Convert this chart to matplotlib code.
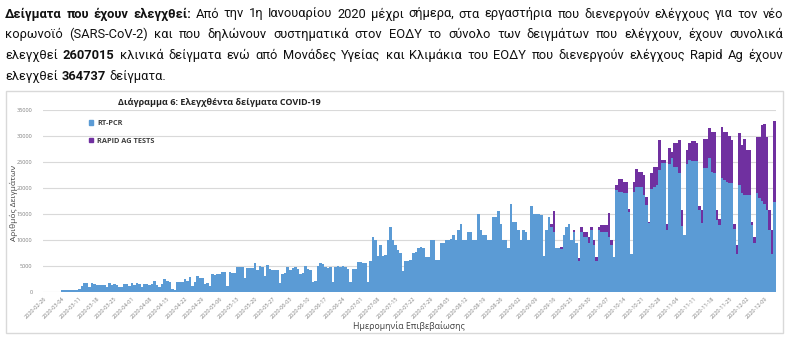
import datetime as dt

import matplotlib
matplotlib.use('Agg')
import matplotlib.pyplot as plt
from matplotlib.patches import Patch, Rectangle

W, H = 792, 340

start_date = dt.date(2020, 2, 26)

# daily RT-PCR samples (from 2020-02-26)
rt_pcr = [
    10, 15, 20, 25, 40, 60, 50,
    350, 300, 400, 380, 320, 350, 420,
    500, 1200, 1700, 1700, 1000, 1700, 1500,
    1400, 1400, 1350, 1300, 1000, 1700, 1300,
    1500, 1400, 900, 1000, 1600, 1500, 1200,
    1700, 1400, 1800, 1500, 1000, 1600, 1500,
    1400, 1500, 2100, 1300, 1000, 1600, 2500,
    2200, 2000, 600, 400, 1900, 2000, 1900,
    2500, 2200, 2900, 1200, 2000, 3000, 2700,
    2600, 1600, 1800, 1100, 3500, 3300, 3400,
    3400, 3900, 3900, 1200, 3800, 3700, 3600,
    4800, 4900, 4800, 2700, 4700, 4600, 4600,
    5600, 4200, 5000, 4900, 3000, 5100, 4500,
    4300, 4300, 4200, 1800, 3500, 3600, 4800,
    4300, 4600, 4800, 4500, 3500, 3600, 5000,
    4500, 4200, 2000, 2200, 5000, 5500, 5300,
    4800, 4700, 4800, 2000, 4800, 5000, 4900,
    5000, 4800, 4500, 2000, 4500, 4500, 5800,
    5800, 5500, 5500, 2000, 6000, 10500, 10000,
    7000, 9000, 7000, 7200, 10000, 12500, 10000,
    9000, 8000, 7500, 4000, 6000, 6000, 6200,
    7500, 7600, 8500, 8600, 8500, 6800, 6800,
    10000, 10000, 6200, 6200, 9500, 9500, 10000,
    10000, 10200, 11000, 10000, 12000, 13000, 10000,
    10000, 11500, 11500, 10000, 10000, 15000, 12000,
    11000, 11000, 10000, 10000, 14500, 14500, 15500,
    13000, 10000, 10000, 8500, 17000, 13500, 13500,
    12000, 10000, 12000, 11500, 10000, 16500, 15000,
    15000, 15000, 14800, 7000, 12000, 14500, 12500,
    11500, 8500, 8500, 8300, 11000, 12500, 13000,
    10000, 11500, 9500, 6000, 11500, 10500, 10500,
    9500, 12000, 9000, 6000, 12000, 11600, 11600,
    11600, 10600, 9000, 6800, 19600, 19300, 19300,
    19000, 19000, 15400, 7400, 19300, 20100, 20200,
    20200, 18700, 16700, 13200, 19900, 20200, 20500,
    23500, 24900, 24900, 11900, 24700, 25800, 24100,
    24100, 22900, 12600, 11000, 24700, 25400, 25100,
    25100, 25100, 15800, 13200, 23800, 23800, 25700,
    23100, 22800, 13800, 12900, 21900, 21500, 21200,
    21000, 20900, 12200, 7400, 20600, 19000, 18700,
    18700, 18700, 12900, 9400, 19000, 18000, 17500,
    17000, 15800, 11900, 7400, 17400,
]

# daily Rapid Ag tests, zero before 2020-09-15
rapid_ag = [0] * 202 + [
    500, 4000, 0, 0, 300, 0, 0,
    0, 0, 500, 0, 500, 1000, 1000,
    1000, 1000, 500, 1000, 800, 500, 1300,
    1300, 1300, 4500, 1000, 0, 1000, 2400,
    2400, 2200, 2200, 600, 0, 1900, 3500,
    2800, 2800, 3800, 1600, 300, 3000, 3900,
    3500, 5700, 500, 500, 1100, 2900, 1200,
    4500, 4500, 6300, 3200, 0, 2700, 3200,
    4000, 4000, 3500, 700, 2600, 5600, 5600,
    5800, 7700, 8000, 2000, 1100, 9900, 9300,
    9600, 9000, 8300, 800, 1600, 9900, 9300,
    10800, 8600, 8600, 600, 1100, 10900, 11900,
    14600, 15400, 14100, 3900, 4500, 15400,
]

paragraph = [
    [("Δείγματα που έχουν ελεγχθεί:", True),
     ("Από την 1η Ιανουαρίου 2020 μέχρι σήμερα, στα εργαστήρια που διενεργούν ελέγχους για τον νέο", False)],
    [("κορωνοϊό (SARS-CoV-2) και που δηλώνουν συστηματικά στον ΕΟΔΥ το σύνολο των δειγμάτων που ελέγχουν, έχουν συνολικά", False)],
    [("ελεγχθεί", False), ("2607015", True),
     ("κλινικά δείγματα ενώ από Μονάδες Υγείας και Κλιμάκια του ΕΟΔΥ που διενεργούν ελέγχους Rapid Ag έχουν", False)],
    [("ελεγχθεί", False), ("364737", True), ("δείγματα.", False)],
]

BLUE = '#5B9BD5'
PURPLE = '#7030A0'
TEXT_FONT = ['Roboto', 'DejaVu Sans']
CHART_FONT = ['Open Sans', 'DejaVu Sans']


def draw_paragraph(fig, lines):
    renderer = fig.canvas.get_renderer()
    x0, x1 = 5, 783
    for i, runs in enumerate(lines):
        y = 14 + i * 20.7
        words = []
        for text, bold in runs:
            for w in text.split():
                t = fig.text(0, 1 - y / H, w, fontsize=9.3, family=TEXT_FONT,
                             fontweight='bold' if bold else 'normal',
                             color='#111111', va='center', ha='left')
                words.append(t)
        widths = [t.get_window_extent(renderer).width for t in words]
        if i < len(lines) - 1:
            gap = (x1 - x0 - sum(widths)) / (len(words) - 1)
        else:
            gap = 3.6
        x = x0
        for t, wd in zip(words, widths):
            t.set_x(x / W)
            x += wd + gap


fig = plt.figure(figsize=(W / 100, H / 100), dpi=100)
draw_paragraph(fig, paragraph)

# chart frame
fig.patches.append(Rectangle((6 / W, 1 - 333 / H), 777 / W, 242 / H,
                             transform=fig.transFigure, fill=False,
                             edgecolor='#D9D9D9', linewidth=1))

ax = fig.add_axes([43 / W, 1 - 292 / H, 733 / W, 182 / H])
n = len(rt_pcr)
days = list(range(n))
ax.bar(days, rt_pcr, width=1.0, color=BLUE, linewidth=0)
ax.bar(days, rapid_ag, bottom=rt_pcr, width=1.0, color=PURPLE, linewidth=0)

ax.set_xlim(-0.5, n - 0.5)
ax.set_ylim(0, 35000)
ax.set_yticks(range(0, 35001, 5000))
ax.grid(axis='y', color='#D9D9D9', linewidth=0.8)
ax.set_axisbelow(True)
for s in ax.spines.values():
    s.set_visible(False)
ax.tick_params(length=0, labelsize=4.0, labelcolor='#7F7F7F')
ax.tick_params(axis='y', pad=7.5)
ax.tick_params(axis='x', pad=3)

tick_pos = list(range(0, n, 7))
tick_labels = [(start_date + dt.timedelta(days=d)).isoformat() for d in tick_pos]
ax.set_xticks(tick_pos)
ax.set_xticklabels(tick_labels, rotation=45, ha='right', rotation_mode='anchor')
for lab in ax.get_xticklabels() + ax.get_yticklabels():
    lab.set_family(CHART_FONT)

fig.text(14 / W, 1 - 203 / H, 'Αριθμός Δειγμάτων', rotation=90, fontsize=6.0,
         color='#404040', family=CHART_FONT, va='center', ha='center')
fig.text(409 / W, 1 - 326 / H, 'Ημερομηνία Επιβεβαίωσης', fontsize=6.3,
         color='#404040', family=CHART_FONT, va='center', ha='center')

fig.text(118 / W, 1 - 102 / H, 'Διάγραμμα 6: Ελεγχθέντα δείγματα COVID-19',
         fontsize=6.5, fontweight='bold', family=CHART_FONT, color='#222222',
         va='center', ha='left')

handles = [Patch(color=BLUE), Patch(color=PURPLE)]
fig.legend(handles, ['RT-PCR', 'RAPID AG TESTS'], loc='upper left',
           bbox_to_anchor=(83 / W, 1 - 114 / H), frameon=False,
           prop={'family': CHART_FONT, 'size': 5.3, 'weight': 'bold'},
           labelcolor='#404040', handlelength=0.6, handleheight=0.6,
           handletextpad=0.5, labelspacing=1.45, borderpad=0.3)

fig.savefig('out.png', dpi=100)
